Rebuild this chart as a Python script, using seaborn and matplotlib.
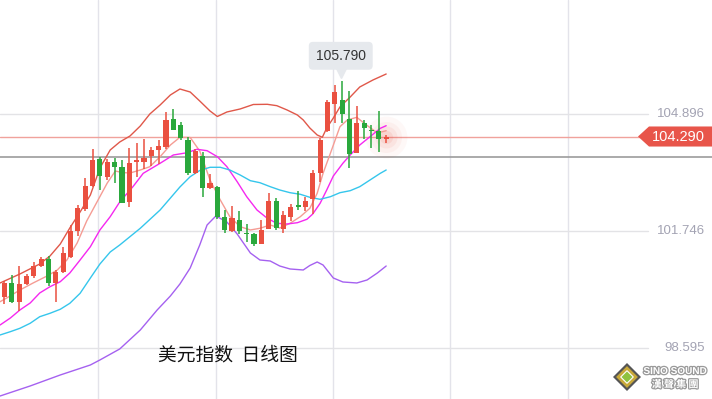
import numpy as np
import pandas as pd
import matplotlib
matplotlib.use("Agg")
import matplotlib.pyplot as plt
import matplotlib.patheffects as pe
from matplotlib.patches import Polygon
import seaborn as sns

# --- daily candles (US dollar index) ---
opens = [99.969, 100.346, 99.834, 100.319, 100.534, 100.803, 100.992, 100.338, 100.642, 101.046,
         101.759, 102.338, 102.958, 103.671, 103.208, 103.596, 103.461, 102.535, 103.596, 103.612,
         103.752, 103.935, 104.016, 104.761, 104.600, 104.209, 103.299, 103.765, 102.896, 102.939,
         102.123, 101.738, 102.034, 101.705, 101.665, 101.404, 101.800, 102.540, 101.786, 102.136,
         102.446, 102.400, 102.607, 103.299, 104.446, 105.165, 105.273, 104.753, 103.854, 104.662,
         104.465, 104.438, 104.215]
highs = [100.400, 100.561, 100.803, 100.588, 100.911, 101.046, 101.073, 100.696, 101.315, 101.894,
         102.446, 103.173, 103.954, 103.725, 103.671, 103.703, 103.658, 103.981, 104.115, 104.218,
         104.008, 104.196, 104.950, 105.025, 104.675, 104.269, 103.946, 103.881, 103.273, 102.958,
         102.311, 102.411, 102.292, 101.921, 101.684, 102.042, 102.774, 102.634, 102.284, 102.467,
         102.836, 102.669, 103.388, 104.242, 105.273, 105.677, 105.790, 105.515, 105.111, 104.735,
         104.600, 104.977, 104.331]
lows = [99.780, 99.807, 99.592, 100.292, 100.480, 100.777, 100.265, 99.834, 100.615, 101.032,
        101.611, 102.284, 102.931, 102.850, 103.119, 103.046, 102.492, 102.387, 103.208, 103.407,
        103.509, 103.550, 103.954, 104.465, 104.183, 103.254, 103.281, 102.669, 102.869, 102.061,
        101.684, 101.727, 101.665, 101.458, 101.342, 101.396, 101.786, 101.773, 101.684, 102.015,
        102.298, 102.284, 102.204, 103.073, 104.420, 104.646, 104.646, 103.434, 103.833, 104.215,
        103.973, 103.881, 104.107]
closes = [100.346, 99.834, 100.319, 100.534, 100.803, 100.992, 100.338, 100.642, 101.162, 101.746,
          102.365, 102.949, 103.658, 103.235, 103.598, 103.477, 102.508, 103.569, 103.658, 103.719,
          103.927, 104.034, 104.735, 104.473, 104.263, 103.294, 103.908, 102.896, 103.046, 102.123,
          101.784, 102.096, 101.751, 101.665, 101.390, 101.773, 102.546, 101.813, 102.177, 102.392,
          102.384, 102.562, 103.307, 104.196, 105.227, 105.480, 104.888, 103.819, 104.662, 104.511,
          104.438, 104.215, 104.290]

# --- indicator lines (x in candle index units) ---
upper_x = [-0.6, 2.1, 4.8, 6.2, 7.6, 8.9, 10.3, 11.7, 13.0, 14.4, 15.7, 17.1, 18.5, 19.8, 21.2, 22.6,
           23.9, 25.3, 26.6, 28.0, 29.0, 30.3, 32.1, 33.9, 35.8, 37.1, 38.5, 39.9, 40.7, 41.6, 42.6,
           43.3, 43.9, 44.8, 45.7, 47.1, 48.4, 50.2, 52.0]
upper_y = [100.346, 100.588, 100.857, 101.073, 101.396, 101.827, 102.257, 102.715, 103.442, 103.927,
           104.142, 104.304, 104.573, 104.896, 105.138, 105.408, 105.569, 105.488, 105.246, 104.977,
           104.829, 104.950, 105.031, 105.152, 105.157, 105.120, 105.004, 104.869, 104.735, 104.519,
           104.331, 104.269, 104.519, 104.788, 105.085, 105.354, 105.623, 105.812, 105.973]

ma5_x = [-0.6, 0.3, 2.1, 3.9, 5.8, 7.2, 8.5, 9.9, 11.2, 12.6, 14.0, 15.1, 16.0, 17.1, 18.5, 19.8,
         21.2, 22.6, 23.9, 25.3, 26.6, 28.0, 29.4, 30.7, 32.1, 33.5, 34.8, 36.2, 37.5, 38.9, 40.3,
         41.6, 42.6, 43.4, 44.4, 45.7, 46.7, 48.0, 49.0, 50.8, 52.0]
ma5_y = [99.842, 99.942, 100.157, 100.346, 100.534, 100.696, 100.965, 101.423, 102.015, 102.527,
         103.038, 103.361, 103.321, 103.307, 103.388, 103.477, 103.746, 104.061, 104.269, 104.263,
         103.900, 103.119, 102.581, 102.131, 101.862, 101.773, 101.819, 101.907, 101.827, 101.953,
         102.131, 102.357, 102.761, 103.299, 103.838, 104.554, 104.735, 104.807, 104.646, 104.385,
         104.446]

ma10_x = [-0.6, 0.8, 2.1, 3.5, 4.8, 6.2, 7.6, 8.9, 10.3, 11.7, 13.0, 14.4, 15.7, 17.5, 18.9, 21.2,
          23.0, 24.9, 26.2, 27.6, 29.0, 30.3, 31.7, 33.0, 34.4, 35.8, 37.1, 38.5, 39.9, 41.2, 42.0,
          43.0, 43.9, 44.8, 46.1, 47.1, 48.4, 49.8, 51.2, 52.0]
ma10_y = [99.215, 99.403, 99.619, 99.807, 100.077, 100.246, 100.381, 100.615, 100.965, 101.323,
          101.773, 102.131, 102.527, 102.939, 103.299, 103.569, 103.792, 103.854, 103.946, 103.908,
          103.746, 103.477, 103.073, 102.669, 102.311, 102.088, 101.953, 101.934, 101.969, 102.061,
          102.204, 102.492, 102.850, 103.227, 103.569, 103.792, 104.061, 104.285, 104.511, 104.581]

ma20_x = [-0.6, 0.8, 2.1, 3.5, 4.8, 6.2, 7.6, 8.9, 10.3, 11.7, 13.0, 14.4, 15.7, 18.5, 21.2, 23.9,
          25.3, 26.6, 28.0, 29.4, 30.7, 32.1, 33.5, 34.8, 36.2, 37.5, 38.9, 40.3, 41.6, 43.0, 44.4,
          45.7, 47.1, 48.4, 49.8, 51.2, 52.0]
ma20_y = [98.946, 99.035, 99.126, 99.261, 99.438, 99.530, 99.638, 99.799, 100.068, 100.480,
          100.857, 101.180, 101.369, 101.819, 102.311, 102.931, 103.208, 103.375, 103.461, 103.461,
          103.388, 103.254, 103.100, 103.046, 102.939, 102.850, 102.777, 102.734, 102.653, 102.599,
          102.669, 102.777, 102.831, 102.939, 103.119, 103.299, 103.388]

lower_x = [-0.6, 3.5, 7.6, 11.7, 13.0, 15.7, 18.5, 20.8, 22.6, 23.9, 25.3, 26.6, 27.6, 28.8, 30.3,
           31.7, 33.5, 34.8, 36.2, 37.5, 38.9, 40.7, 41.6, 42.6, 43.4, 44.8, 46.1, 48.0, 49.4, 50.8,
           52.0]
lower_y = [97.303, 97.573, 97.869, 98.138, 98.273, 98.569, 99.080, 99.619, 99.996, 100.319,
           100.750, 101.369, 101.907, 102.150, 101.988, 101.665, 101.153, 100.965, 100.938, 100.803,
           100.723, 100.696, 100.817, 100.911, 100.830, 100.480, 100.373, 100.346, 100.427, 100.615,
           100.803]

price_ticks = [108.046, 104.896, 101.746, 98.595]
last_price = 104.290
peak_price = 105.790
gray_level = 103.738
date_grid = [12.75, 28.75, 44.75, 60.75, 76.75]

UP = "#ea5040"
DOWN = "#2aa83c"
LABEL_BG = "#e6e9ed"

sns.set_theme(style="white")
plt.rcParams["font.family"] = ["Liberation Sans", "DejaVu Sans"]

fig = plt.figure(figsize=(7.12, 3.99), dpi=100)
ax = fig.add_axes([0, 0, 1, 1])
ax.set_xlim(-0.613, 96.39)
ax.set_ylim(97.222, 107.9655)
ax.set_axis_off()

# grid
for gx in date_grid:
    ax.axvline(gx, color="#e3e3ea", lw=1, zorder=0)
for t in price_ticks:
    ax.axhline(t, xmin=0, xmax=648 / 712, color="#e3e3e6", lw=1, zorder=0)
    ax.text(0.99, t, f"{t:.3f}", transform=ax.get_yaxis_transform(), ha="right", va="center",
            fontsize=9.5, color="#a3a3b3", zorder=1)

ax.axhline(gray_level, color="#9c9c9c", lw=1.2, zorder=1)
ax.axhline(last_price, xmin=0, xmax=640 / 712, color="#f0a29c", lw=1, zorder=1)

# candles
df = pd.DataFrame({"o": opens, "h": highs, "l": lows, "c": closes})
df["i"] = np.arange(len(df))
df["col"] = np.where(df["c"] >= df["o"], UP, DOWN)
body_lo = np.minimum(df["o"], df["c"])
body_h = np.maximum(np.abs(df["c"] - df["o"]), 0.035)
ax.vlines(df["i"], df["l"], df["h"], colors=df["col"], lw=1.1, zorder=4)
ax.bar(df["i"], body_h, bottom=body_lo, width=0.7, color=df["col"], lw=0, zorder=5)

# indicator lines
lines = [(upper_x, upper_y, "#e0584a"), (ma5_x, ma5_y, "#f59c94"), (ma10_x, ma10_y, "#f528f0"),
         (ma20_x, ma20_y, "#35c6ec"), (lower_x, lower_y, "#a561f0")]
for lx, ly, c in lines:
    sns.lineplot(x=lx, y=ly, ax=ax, color=c, lw=1.0, estimator=None, sort=False, zorder=3)

# glow on the last candle
for s, a in [(900, 0.04), (500, 0.05), (250, 0.07), (90, 0.1)]:
    ax.scatter([len(df) - 1], [last_price], s=s, color=UP, alpha=a, lw=0, zorder=2)

# peak label with pointer
shift = matplotlib.transforms.ScaledTranslation(0, 7 / 72, fig.dpi_scale_trans)
ax.plot([46 - 0.1], [peak_price], marker="v", markersize=10, color=LABEL_BG, mec=LABEL_BG,
        transform=ax.transData + shift, zorder=7)
ax.annotate(f"{peak_price:.3f}", xy=(46, peak_price), xytext=(-1, 18), textcoords="offset points",
            ha="center", va="center", fontsize=10, color="#333333", zorder=7,
            bbox=dict(boxstyle="round,pad=0.5,rounding_size=0.3", fc=LABEL_BG, ec="none"))

# last price tag
h = 0.27
tag = Polygon([(638 / 712, last_price), (649 / 712, last_price + h), (1, last_price + h),
               (1, last_price - h), (649 / 712, last_price - h)], closed=True,
              transform=ax.get_yaxis_transform(), fc="#e8554a", ec="none", zorder=8)
ax.add_patch(tag)
ax.text(0.99, last_price, f"{last_price:.3f}", transform=ax.get_yaxis_transform(), ha="right",
        va="center", fontsize=10.5, color="white", zorder=9)

# title
ax.text(228 / 712, 1 - 355 / 399, "美元指数  日线图", transform=ax.transAxes, ha="center", va="center",
        fontsize=13.5, color="#111111", family=["Noto Sans CJK SC", "DejaVu Sans"], zorder=9)

# logo
lx0, ly0 = 627 / 712, 1 - 377 / 399
dx, dy = 14 / 712, 14 / 399
for k, fc, ec in [(1.0, "#555555", "none"), (0.78, "#c9a93a", "none"), (0.45, "#8fc23f", "white")]:
    ax.add_patch(Polygon([(lx0 - dx * k, ly0), (lx0, ly0 + dy * k), (lx0 + dx * k, ly0),
                          (lx0, ly0 - dy * k)], transform=ax.transAxes, fc=fc, ec=ec, lw=0.8,
                         zorder=9))
fx = [pe.withStroke(linewidth=1.8, foreground="#9a9a9a")]
ax.text(675 / 712, 1 - 371 / 399, "SINO SOUND", transform=ax.transAxes, ha="center", va="center",
        fontsize=7.2, fontweight="bold", color="white", path_effects=fx, zorder=9)
ax.text(675 / 712, 1 - 384.5 / 399, "漢 聲 集 團", transform=ax.transAxes, ha="center", va="center",
        fontsize=7.2, fontweight="bold", color="white", path_effects=fx,
        family=["Noto Sans CJK TC", "DejaVu Sans"], zorder=9)

fig.savefig("out.png", dpi=100)
